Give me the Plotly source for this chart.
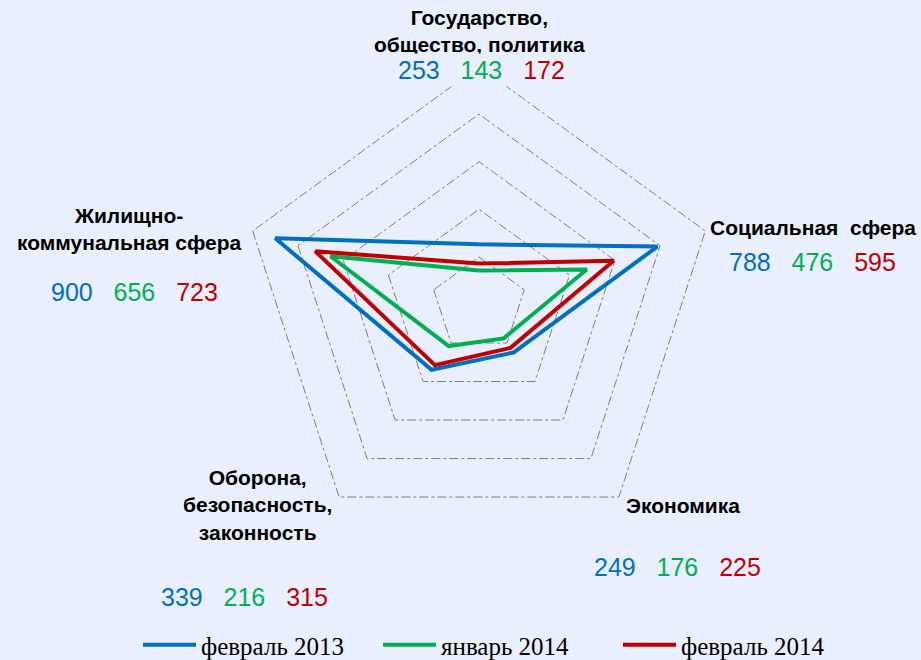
import plotly.graph_objects as go

categories = [
    "Государство, общество, политика",
    "Социальная сфера",
    "Экономика",
    "Оборона, безопасность, законность",
    "Жилищно-коммунальная сфера",
]
series_names = ["февраль 2013", "январь 2014", "февраль 2014"]
feb2013 = [253, 788, 249, 339, 900]
jan2014 = [143, 476, 176, 216, 656]
feb2014 = [172, 595, 225, 315, 723]
series_values = [feb2013, jan2014, feb2014]
colors = ["#0070C0", "#00B050", "#C00000"]
radial_ticks = [200, 400, 600, 800, 1000]
radial_max = 1015

BG = "#E9EFFC"
W, H = 921, 660

fig = go.Figure()
for name, vals, col in zip(series_names, series_values, colors):
    fig.add_trace(go.Scatterpolar(
        r=vals + vals[:1],
        theta=categories + categories[:1],
        mode="lines",
        name=name,
        line=dict(color=col, width=4),
        hoverinfo="skip",
    ))

# polar geometry (pixels): centre and radius of the 1000 ring
cx, cy, R1000 = 479, 304.5, 238
R = R1000 * radial_max / 1000
fig.update_layout(
    width=W, height=H,
    paper_bgcolor=BG, plot_bgcolor=BG,
    margin=dict(l=0, r=0, t=0, b=0, autoexpand=False),
    showlegend=True,
    polar=dict(
        bgcolor=BG,
        gridshape="linear",
        domain=dict(x=[(cx - R) / W, (cx + R) / W],
                    y=[(H - cy - R) / H, (H - cy + R) / H]),
        radialaxis=dict(range=[0, radial_max], tickvals=radial_ticks, showticklabels=False,
                        ticks="", showline=False, gridcolor="#7f7f7f", gridwidth=1,
                        griddash="dashdot"),
        angularaxis=dict(direction="clockwise", rotation=90, showticklabels=False,
                         ticks="", showgrid=False, showline=False,
                         categoryorder="array", categoryarray=categories),
    ),
    legend=dict(orientation="h", x=498 / W, xanchor="center", y=(H - 645) / H, yanchor="middle",
                font=dict(family="Liberation Serif, Times New Roman", size=25, color="black"),
                bgcolor="rgba(0,0,0,0)", itemwidth=53, traceorder="normal",
                entrywidth=172),
)

label_font = dict(family="Liberation Sans, Arial", size=21, color="black")
num_font = dict(family="Liberation Sans, Arial", size=25)


def px(x, y):
    return x / W, (H - y) / H


def nums(i):
    parts = []
    for vals, col in zip(series_values, colors):
        parts.append(f"<span style='color:{col}'>{vals[i]}</span>")
    return "\u00a0\u00a0\u00a0".join(parts)


labels = [
    # text, x, y, xanchor, align
    ("<b>Государство,<br>общество, политика</b>", 479, 31, "center", "center"),
    ("<b>Социальная\u00a0\u00a0сфера</b>", 918, 227, "right", "left"),
    ("<b>Экономика</b>", 683, 506, "center", "center"),
    ("<b>Оборона,<br>безопасность,<br>законность</b>", 257, 505, "center", "center"),
    ("<b>Жилищно-<br>коммунальная сфера</b>", 129, 229, "center", "center"),
]
for text, x, y, xa, al in labels:
    xx, yy = px(x, y)
    fig.add_annotation(text=text, x=xx, y=yy, xref="paper", yref="paper",
                       xanchor=xa, yanchor="middle", align=al, showarrow=False,
                       font=label_font)

num_pos = [(481, 70), (812, 262), (677, 567), (244, 597), (134, 292)]
for i, (x, y) in enumerate(num_pos):
    xx, yy = px(x, y)
    fig.add_annotation(text=nums(i), x=xx, y=yy, xref="paper", yref="paper",
                       xanchor="center", yanchor="middle", showarrow=False,
                       font=num_font, bgcolor=BG if i == 0 else None,
                       borderpad=2)

fig.write_html("out.html", config={"displayModeBar": False},
               post_script="document.body.style.margin='0';document.body.style.overflow='hidden';")
